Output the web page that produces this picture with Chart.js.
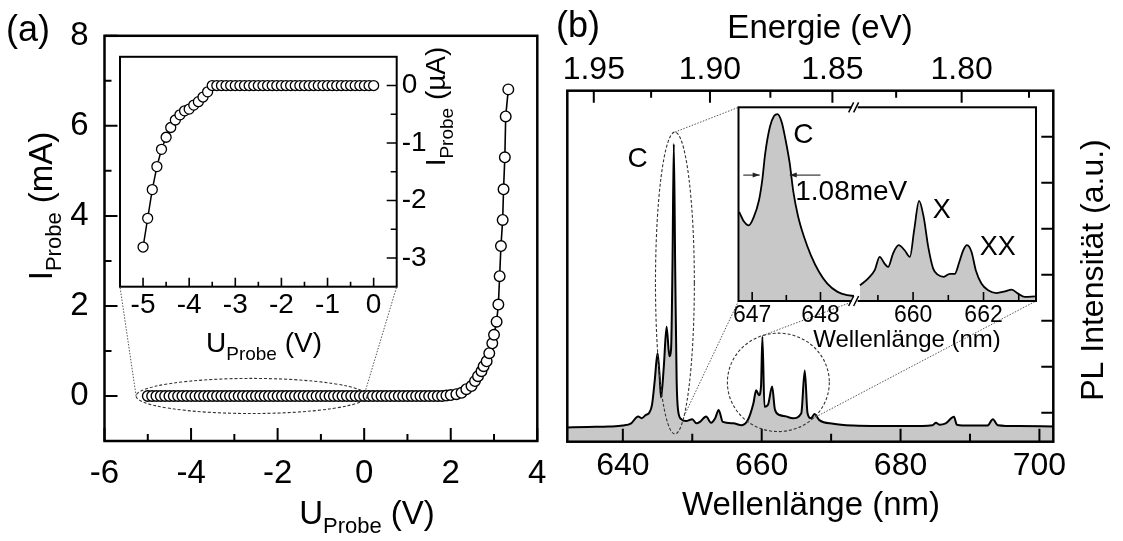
<!DOCTYPE html>
<html>
<head>
<meta charset="utf-8">
<title>Kennlinie und PL-Spektrum</title>
<script src="https://cdn.jsdelivr.net/npm/chart.js@4.4.1/dist/chart.umd.min.js"></script>
<style>
  html, body { margin: 0; padding: 0; background: #fff; }
  #wrap { position: relative; width: 1123px; height: 541px; overflow: hidden; }
  canvas { position: absolute; }
</style>
</head>
<body>
<div id="wrap">
  <canvas id="ivMain" width="560" height="541" style="left:0;top:0"></canvas>
  <canvas id="pl" width="578" height="541" style="left:545px;top:0"></canvas>
  <canvas id="ivInset" width="380" height="345" style="left:100px;top:35px"></canvas>
  <canvas id="plInset" width="320" height="260" style="left:730px;top:100px"></canvas>
</div>
<script>
// ---- Schrift / Defaults ----
const FONT = "'Liberation Sans', Arial, Helvetica, sans-serif";
Chart.defaults.font.family = FONT;
Chart.defaults.color = '#000';
Chart.defaults.animation = false;

// ---- (a) Kennlinie: U in V, I in mA ----
const uMain = [
  -5.0, -4.9, -4.8, -4.7, -4.6, -4.5, -4.4, -4.3, -4.2, -4.1,
  -4.0, -3.9, -3.8, -3.7, -3.6, -3.5, -3.4, -3.3, -3.2, -3.1,
  -3.0, -2.9, -2.8, -2.7, -2.6, -2.5, -2.4, -2.3, -2.2, -2.1,
  -2.0, -1.9, -1.8, -1.7, -1.6, -1.5, -1.4, -1.3, -1.2, -1.1,
  -1.0, -0.9, -0.8, -0.7, -0.6, -0.5, -0.4, -0.3, -0.2, -0.1,
  0.0, 0.1, 0.2, 0.3, 0.4, 0.5, 0.6, 0.7, 0.8, 0.9,
  1.0, 1.1, 1.2, 1.3, 1.4, 1.5, 1.6, 1.7, 1.8, 1.9,
  2.0, 2.13, 2.25, 2.36, 2.48, 2.56, 2.63, 2.71, 2.76, 2.83,
  2.89, 2.96, 3.0, 3.06, 3.1, 3.13, 3.16, 3.2, 3.22, 3.25,
  3.27, 3.33
];
const iMain = [
  0, 0, 0, 0, 0, 0, 0, 0, 0, 0,
  0, 0, 0, 0, 0, 0, 0, 0, 0, 0,
  0, 0, 0, 0, 0, 0, 0, 0, 0, 0,
  0, 0, 0, 0, 0, 0, 0, 0, 0, 0,
  0, 0, 0, 0, 0, 0, 0, 0, 0, 0,
  0, 0, 0, 0, 0, 0, 0, 0, 0, 0,
  0, 0, 0, 0, 0, 0, 0, 0, 0, 0.01,
  0.02, 0.04, 0.07, 0.15, 0.22, 0.33, 0.44, 0.55, 0.66, 0.77,
  0.95, 1.17, 1.36, 1.65, 2.03, 2.66, 3.33, 3.91, 4.59, 5.30,
  6.21, 6.81
];
// Inset (a): I in µA
const uInset = [
  -5.0, -4.9, -4.8, -4.7, -4.6, -4.5, -4.4, -4.3, -4.2, -4.1,
  -4.0, -3.9, -3.8, -3.7, -3.6, -3.5, -3.4, -3.3, -3.2, -3.1,
  -3.0, -2.9, -2.8, -2.7, -2.6, -2.5, -2.4, -2.3, -2.2, -2.1,
  -2.0, -1.9, -1.8, -1.7, -1.6, -1.5, -1.4, -1.3, -1.2, -1.1,
  -1.0, -0.9, -0.8, -0.7, -0.6, -0.5, -0.4, -0.3, -0.2, -0.1,
  0.0
];
const iInset = [
  -2.81, -2.31, -1.81, -1.41, -1.11, -0.90, -0.73, -0.60, -0.51, -0.44,
  -0.41, -0.34, -0.28, -0.20, -0.11, 0, 0, 0, 0, 0,
  0, 0, 0, 0, 0, 0, 0, 0, 0, 0,
  0, 0, 0, 0, 0, 0, 0, 0, 0, 0,
  0, 0, 0, 0, 0, 0, 0, 0, 0, 0,
  0
];
const uMajor = [-6, -4, -2, 0, 2, 4];
const uMinor = [-5, -3, -1, 1, 3];
const iMajor = [0, 2, 4, 6, 8];
const iMinor = [1, 3, 5, 7];
const uInMajor = [-5, -4, -3, -2, -1, 0];
const uInMinor = [-4.5, -3.5, -2.5, -1.5, -0.5];
const iInMajor = [0, -1, -2, -3];
const iInMinor = [-0.5, -1.5, -2.5];

// ---- (b) PL-Spektrum: Wellenlänge in nm, Intensität in a.u. ----
const wl = [
  632, 635, 638, 640, 641.2, 642.2, 642.7, 643.3, 643.8, 644.2,
  644.6, 645.0, 645.3, 645.5, 645.9, 646.3, 646.7, 646.95, 647.15, 647.34,
  647.55, 647.75, 647.95, 648.4, 649.1, 650.0, 650.6, 651.1, 652.0, 652.7,
  653.3, 653.8, 654.4, 655.9, 657.1, 658.0, 658.8, 659.2, 659.6, 659.9,
  660.1, 660.4, 660.9, 661.5, 661.9, 662.6, 663.5, 664.5, 665.7, 666.2,
  666.6, 667.1, 667.6, 668.3, 670.3, 673.2, 677, 681, 684.6, 685.1,
  685.6, 686.5, 687.7, 688.1, 690, 692.5, 693.3, 694, 697, 702
];
const pl = [
  -0.32, -0.31, -0.30, -0.28, -0.23, -0.08, -0.12, -0.05, 0.0, 0.17,
  0.71, 1.29, 0.79, 0.33, 1.0, 1.87, 1.23, 1.4, 3.2, 5.84,
  3.0, 0.7, 0.06, -0.14, -0.18, -0.14, -0.23, -0.2, -0.08, -0.22,
  -0.12, 0.06, -0.2, -0.23, -0.27, -0.16, 0.2, 0.49, 0.38, 0.57,
  1.65, 0.13, 0.17, 0.57, 0.07, -0.05, -0.08, -0.12, -0.01, 0.92,
  -0.01, -0.12, -0.03, -0.16, -0.24, -0.28, -0.29, -0.29, -0.27, -0.22,
  -0.26, -0.23, -0.09, -0.26, -0.28, -0.28, -0.14, -0.27, -0.29, -0.30
];
// Inset (b), zwei Abschnitte mit Achsenbruch
const wlInL = [646.81, 646.88, 646.95, 647.02, 647.10, 647.15, 647.19, 647.26, 647.32, 647.37,
               647.43, 647.49, 647.55, 647.60, 647.67, 647.76, 647.86, 647.98, 648.10, 648.25,
               648.39, 648.49];
const plInL = [0.46, 0.41, 0.39, 0.43, 0.52, 0.63, 0.76, 0.90, 0.955, 0.965,
               0.926, 0.83, 0.71, 0.57, 0.44, 0.33, 0.236, 0.15, 0.09, 0.047,
               0.03, 0.026];
const wlInR = [658.49, 658.72, 658.91, 659.05, 659.19, 659.29, 659.43, 659.59, 659.76, 659.91,
               660.03, 660.17, 660.30, 660.43, 660.57, 660.71, 660.87, 661.04, 661.18, 661.31,
               661.42, 661.53, 661.66, 661.78, 661.94, 662.13, 662.37, 662.61, 662.80, 662.98,
               663.17, 663.46];
const plInR = [0.081, 0.116, 0.159, 0.228, 0.193, 0.176, 0.245, 0.288, 0.262, 0.228,
               0.366, 0.517, 0.434, 0.279, 0.167, 0.135, 0.125, 0.14, 0.14, 0.2,
               0.26, 0.288, 0.253, 0.159, 0.09, 0.055, 0.041, 0.05, 0.059, 0.038,
               0.021, 0.024];
const wlMajor = [640, 660, 680, 700];
const wlMinor = [650, 670, 690];
const eMajor = [1.95, 1.90, 1.85, 1.80];
const eMinor = [1.925, 1.875, 1.825, 1.775];
const plTicks = [0, 1, 2, 3, 4, 5, 6];
const inMajor = [647, 648, 660, 662];
const inMinor = [647.5, 659, 661, 663];

// ---- Hilfen ----
const HC = 1239.84;                       // eV*nm
const pts = (xs, ys) => xs.map((x, i) => ({ x, y: ys[i] }));

// Achsenbruch im Inset: linker Abschnitt gestreckt
const IN_START = 646.8, BRK_L = 648.5, BRK_R = 658.34, IN_END = 663.49, STRETCH_L = 1.94;
function toU(nm) {
  return nm <= BRK_L ? (nm - IN_START) * STRETCH_L
                     : (BRK_L - IN_START) * STRETCH_L + (nm - BRK_R);
}

function frame(chart, lw) {
  const ctx = chart.ctx, a = chart.chartArea;
  ctx.save();
  ctx.lineWidth = lw; ctx.strokeStyle = '#000';
  ctx.strokeRect(a.left, a.top, a.right - a.left, a.bottom - a.top);
  ctx.restore();
}

function ticksIn(chart, id, vals, side, len, lw) {
  const ctx = chart.ctx, a = chart.chartArea, s = chart.scales[id];
  ctx.save();
  ctx.lineWidth = lw; ctx.strokeStyle = '#000';
  ctx.beginPath();
  vals.forEach(v => {
    const p = s.getPixelForValue(v);
    if (side === 'bottom') { ctx.moveTo(p, a.bottom); ctx.lineTo(p, a.bottom - len); }
    if (side === 'top')    { ctx.moveTo(p, a.top);    ctx.lineTo(p, a.top + len); }
    if (side === 'left')   { ctx.moveTo(a.left, p);   ctx.lineTo(a.left + len, p); }
    if (side === 'right')  { ctx.moveTo(a.right, p);  ctx.lineTo(a.right - len, p); }
  });
  ctx.stroke();
  ctx.restore();
}

// Text mit Index, zentriert um (x, y); parts = [text, size, dy]
function richText(ctx, x, y, parts, rot) {
  ctx.save();
  ctx.translate(x, y);
  if (rot) ctx.rotate(rot);
  ctx.fillStyle = '#000';
  ctx.textAlign = 'left';
  ctx.textBaseline = 'alphabetic';
  let w = 0;
  parts.forEach(p => { ctx.font = p[1] + 'px ' + FONT; w += ctx.measureText(p[0]).width; });
  let cx = -w / 2;
  parts.forEach(p => {
    ctx.font = p[1] + 'px ' + FONT;
    ctx.fillText(p[0], cx, p[2] || 0);
    cx += ctx.measureText(p[0]).width;
  });
  ctx.restore();
}

function plainText(ctx, txt, x, y, size) {
  ctx.save();
  ctx.font = size + 'px ' + FONT;
  ctx.fillStyle = '#000';
  ctx.textAlign = 'left';
  ctx.textBaseline = 'alphabetic';
  ctx.fillText(txt, x, y);
  ctx.restore();
}

// gestrichelte Ellipse in Datenkoordinaten, liefert Punkt auf dem Rand
function dashEllipse(chart, c) {
  const ctx = chart.ctx, sx = chart.scales.x, sy = chart.scales.y;
  const cx = sx.getPixelForValue(c.x), cy = sy.getPixelForValue(c.y);
  const rx = Math.abs(sx.getPixelForValue(c.x + c.rx) - cx);
  const ry = Math.abs(sy.getPixelForValue(c.y + c.ry) - cy);
  ctx.save();
  ctx.strokeStyle = '#333'; ctx.lineWidth = 1.1; ctx.setLineDash([3, 2]);
  ctx.beginPath(); ctx.ellipse(cx, cy, rx, ry, 0, 0, Math.PI * 2); ctx.stroke();
  ctx.restore();
  return t => ({ x: cx + rx * Math.cos(t), y: cy + ry * Math.sin(t) });
}

function dotLine(ctx, p, q) {
  ctx.save();
  ctx.strokeStyle = '#555'; ctx.lineWidth = 1; ctx.setLineDash([1.5, 1.5]);
  ctx.beginPath(); ctx.moveTo(p.x, p.y); ctx.lineTo(q.x, q.y); ctx.stroke();
  ctx.restore();
}

// Ecke eines Insets in Koordinaten eines anderen Canvas
function cornerIn(inset, host, px, py) {
  return {
    x: px + inset.canvas.offsetLeft - host.canvas.offsetLeft,
    y: py + inset.canvas.offsetTop - host.canvas.offsetTop
  };
}

function arrow(ctx, x1, y, x2) {
  const d = Math.sign(x2 - x1);
  ctx.save();
  ctx.strokeStyle = '#222'; ctx.fillStyle = '#222'; ctx.lineWidth = 1.1;
  ctx.beginPath(); ctx.moveTo(x1, y); ctx.lineTo(x2, y); ctx.stroke();
  ctx.beginPath(); ctx.moveTo(x2, y); ctx.lineTo(x2 - d * 7, y - 2.5); ctx.lineTo(x2 - d * 7, y + 2.5);
  ctx.closePath(); ctx.fill();
  ctx.restore();
}

const hiddenGrid = { display: false, drawTicks: false };
const noBorder = { display: false };

// ---- Inset (a) ----
const ivInset = new Chart(document.getElementById('ivInset'), {
  type: 'scatter',
  data: { datasets: [{
    data: pts(uInset, iInset), showLine: true,
    borderColor: '#000', borderWidth: 1.5,
    pointRadius: 5, pointBorderWidth: 1.3,
    pointBackgroundColor: '#fff', pointBorderColor: '#000'
  }] },
  options: {
    responsive: false, events: [],
    layout: { padding: { left: 20, top: 10.7, right: 0, bottom: 0 } },
    plugins: { legend: { display: false }, tooltip: { enabled: false } },
    scales: {
      x: {
        type: 'linear', min: -5.5, max: 0.5, grid: hiddenGrid, border: noBorder,
        afterBuildTicks: s => { s.ticks = uInMajor.map(v => ({ value: v })); },
        afterFit: s => { s.height = 93.3; },
        ticks: { font: { size: 28 }, padding: 2, autoSkip: false, maxRotation: 0 }
      },
      y: {
        type: 'linear', position: 'right', min: -3.5, max: 0.5, grid: hiddenGrid, border: noBorder,
        afterBuildTicks: s => { s.ticks = iInMajor.map(v => ({ value: v })); },
        afterFit: s => { s.width = 83.3; },
        ticks: { font: { size: 28 }, padding: 5, autoSkip: false }
      }
    }
  },
  plugins: [{
    id: 'insetA',
    beforeDraw(chart) {
      const a = chart.chartArea, ctx = chart.ctx;
      ctx.save(); ctx.fillStyle = '#fff';
      ctx.fillRect(a.left, a.top, a.right - a.left, a.bottom - a.top);
      ctx.restore();
    },
    afterDraw(chart) {
      const ctx = chart.ctx;
      frame(chart, 2);
      ticksIn(chart, 'x', uInMajor, 'bottom', 9, 1.6);
      ticksIn(chart, 'x', uInMinor, 'bottom', 5, 1.6);
      ticksIn(chart, 'y', iInMajor, 'right', 10, 1.6);
      ticksIn(chart, 'y', iInMinor, 'right', 6, 1.6);
      richText(ctx, 164, 317, [['U', 28], ['Probe', 19, 8], [' (V)', 28]]);
      richText(ctx, 345, 71.5, [['I', 28], ['Probe', 19, 8], [' (\u00b5A)', 28]], -Math.PI / 2);
    }
  }]
});

// ---- Hauptgraph (a) ----
new Chart(document.getElementById('ivMain'), {
  type: 'scatter',
  data: { datasets: [{
    data: pts(uMain, iMain), showLine: true,
    borderColor: '#000', borderWidth: 1.6,
    pointRadius: 5.3, pointBorderWidth: 1.4,
    pointBackgroundColor: '#fff', pointBorderColor: '#000'
  }] },
  options: {
    responsive: false, events: [],
    layout: { padding: { left: 0, top: 31, right: 22.7, bottom: 0 } },
    plugins: { legend: { display: false }, tooltip: { enabled: false } },
    scales: {
      x: {
        type: 'linear', min: -6, max: 4, grid: hiddenGrid, border: noBorder,
        afterBuildTicks: s => { s.ticks = uMajor.map(v => ({ value: v })); },
        afterFit: s => { s.height = 100; },
        ticks: { font: { size: 33 }, padding: 13, autoSkip: false, maxRotation: 0 }
      },
      y: {
        type: 'linear', min: -1, max: 8, grid: hiddenGrid, border: noBorder,
        afterBuildTicks: s => { s.ticks = iMajor.map(v => ({ value: v })); },
        afterFit: s => { s.width = 104.5; },
        ticks: { font: { size: 33 }, padding: 16, autoSkip: false }
      }
    }
  },
  plugins: [{
    id: 'mainA',
    afterDraw(chart) {
      const ctx = chart.ctx;
      frame(chart, 2.5);
      ticksIn(chart, 'x', uMajor, 'bottom', 13, 2);
      ticksIn(chart, 'x', uMinor, 'bottom', 7, 2);
      ticksIn(chart, 'y', iMajor, 'left', 13, 2);
      ticksIn(chart, 'y', iMinor, 'left', 7, 2);

      // Zoom-Bereich und Verbindungslinien zum Inset
      const onEll = dashEllipse(chart, { x: -2.6, y: 0, rx: 2.67, ry: 0.39 });
      const ia = ivInset.chartArea;
      dotLine(ctx, onEll(Math.PI), cornerIn(ivInset, chart, ia.left, ia.bottom));
      dotLine(ctx, onEll(-0.2), cornerIn(ivInset, chart, ia.right, ia.bottom));

      richText(ctx, 367, 524, [['U', 33], ['Probe', 22, 9], [' (V)', 33]]);
      richText(ctx, 52, 206, [['I', 33], ['Probe', 22, 9], [' (mA)', 33]], -Math.PI / 2);
      plainText(ctx, '(a)', 6, 41, 36);
    }
  }]
});

// ---- Inset (b) ----
const plInset = new Chart(document.getElementById('plInset'), {
  type: 'scatter',
  data: { datasets: [
    { data: wlInL.map((w, i) => ({ x: toU(w), y: plInL[i] })) },
    { data: wlInR.map((w, i) => ({ x: toU(w), y: plInR[i] })) }
  ].map(d => Object.assign(d, {
    showLine: true, borderColor: '#000', borderWidth: 1.8, pointRadius: 0,
    cubicInterpolationMode: 'monotone', fill: 'start', backgroundColor: '#c8c8c8'
  })) },
  options: {
    responsive: false, events: [],
    layout: { padding: { left: 8.5, top: 7.3, right: 14, bottom: 0 } },
    plugins: { legend: { display: false }, tooltip: { enabled: false } },
    scales: {
      x: {
        type: 'linear', min: 0, max: toU(IN_END), grid: hiddenGrid, border: noBorder,
        afterBuildTicks: s => { s.ticks = inMajor.map(v => ({ value: toU(v) })); },
        afterFit: s => { s.height = 59; },
        ticks: { font: { size: 23 }, padding: 1, autoSkip: false, maxRotation: 0,
                 callback: (v, i) => String(inMajor[i]) }
      },
      y: { type: 'linear', display: false, min: 0, max: 1 }
    }
  },
  plugins: [{
    id: 'insetB',
    beforeDraw(chart) {
      const a = chart.chartArea, ctx = chart.ctx;
      ctx.save(); ctx.fillStyle = '#fff';
      ctx.fillRect(a.left, a.top, a.right - a.left, a.bottom - a.top);
      ctx.restore();
    },
    afterDraw(chart) {
      const ctx = chart.ctx, a = chart.chartArea, sx = chart.scales.x, sy = chart.scales.y;
      frame(chart, 2);
      ticksIn(chart, 'x', inMajor.map(toU), 'bottom', 9, 1.6);
      ticksIn(chart, 'x', inMinor.map(toU), 'bottom', 6, 1.6);

      // Achsenbruch //
      const bx = sx.getPixelForValue(toU(BRK_L));
      [a.top, a.bottom].forEach(y => {
        ctx.save();
        ctx.fillStyle = '#fff'; ctx.fillRect(bx - 3, y - 3, 6, 6);
        ctx.strokeStyle = '#000'; ctx.lineWidth = 1.5;
        ctx.beginPath();
        ctx.moveTo(bx - 6, y + 5); ctx.lineTo(bx - 1, y - 5);
        ctx.moveTo(bx - 1, y + 5); ctx.lineTo(bx + 4, y - 5);
        ctx.stroke();
        ctx.restore();
      });

      // Halbwertsbreite
      const yA = sy.getPixelForValue(0.65);
      arrow(ctx, sx.getPixelForValue(toU(646.87)), yA, sx.getPixelForValue(toU(647.11)));
      arrow(ctx, sx.getPixelForValue(toU(648.0)), yA, sx.getPixelForValue(toU(647.55)));

      plainText(ctx, 'C', sx.getPixelForValue(toU(647.6)), sy.getPixelForValue(0.816), 28);
      plainText(ctx, '1.08meV', sx.getPixelForValue(toU(647.63)), sy.getPixelForValue(0.52), 28);
      plainText(ctx, 'X', sx.getPixelForValue(toU(660.56)), sy.getPixelForValue(0.43), 27);
      plainText(ctx, 'XX', sx.getPixelForValue(toU(661.89)), sy.getPixelForValue(0.24), 27);
      richText(ctx, 177, 247, [['Wellenlänge (nm)', 24]]);
    }
  }]
});

// ---- Hauptgraph (b) ----
new Chart(document.getElementById('pl'), {
  type: 'scatter',
  data: { datasets: [{
    data: pts(wl, pl), showLine: true,
    borderColor: '#000', borderWidth: 2, pointRadius: 0,
    cubicInterpolationMode: 'monotone', fill: 'start', backgroundColor: '#c8c8c8'
  }] },
  options: {
    responsive: false, events: [],
    layout: { padding: { left: 22.3, top: 0, right: 69.7, bottom: 0 } },
    plugins: { legend: { display: false }, tooltip: { enabled: false } },
    scales: {
      x: {
        type: 'linear', position: 'bottom', min: 632, max: 702, grid: hiddenGrid, border: noBorder,
        afterBuildTicks: s => { s.ticks = wlMajor.map(v => ({ value: v })); },
        afterFit: s => { s.height = 99.3; },
        ticks: { font: { size: 32 }, padding: 5, autoSkip: false, maxRotation: 0 }
      },
      xTop: {
        type: 'linear', position: 'top', min: 632, max: 702, grid: hiddenGrid, border: noBorder,
        afterBuildTicks: s => { s.ticks = eMajor.map(e => ({ value: HC / e })); },
        afterFit: s => { s.height = 90.7; },
        ticks: { font: { size: 32 }, padding: 1.5, autoSkip: false, maxRotation: 0,
                 callback: (v, i) => eMajor[i].toFixed(2) }
      },
      y: { type: 'linear', display: false, min: -0.63, max: 7 }
    }
  },
  plugins: [{
    id: 'mainB',
    afterDraw(chart) {
      const ctx = chart.ctx, sx = chart.scales.x, sy = chart.scales.y;
      frame(chart, 2.5);
      ticksIn(chart, 'x', wlMajor, 'bottom', 13, 2);
      ticksIn(chart, 'x', wlMinor, 'bottom', 8, 2);
      ticksIn(chart, 'xTop', eMajor.map(e => HC / e), 'top', 12, 2);
      ticksIn(chart, 'xTop', eMinor.map(e => HC / e), 'top', 7, 2);
      ticksIn(chart, 'y', plTicks, 'right', 12, 2);

      // Zoom-Markierungen und Verbindungslinien zum Inset
      const ia = plInset.chartArea;
      const brkX = plInset.scales.x.getPixelForValue(toU(BRK_L));
      const onC = dashEllipse(chart, { x: 647.5, y: 2.82, rx: 2.8, ry: 3.28 });
      const onX = dashEllipse(chart, { x: 662.4, y: 0.66, rx: 7.34, ry: 1.07 });
      dotLine(ctx, onC(-Math.PI / 2), cornerIn(plInset, chart, ia.left, ia.top));
      dotLine(ctx, onC(1.08), cornerIn(plInset, chart, ia.left, ia.bottom));
      dotLine(ctx, onX(-1.89), cornerIn(plInset, chart, brkX, ia.bottom));
      dotLine(ctx, onX(0.82), cornerIn(plInset, chart, ia.right, ia.bottom));

      plainText(ctx, 'C', sx.getPixelForValue(640.68), sy.getPixelForValue(5.34), 28);
      richText(ctx, 275, 38, [['Energie (eV)', 33]]);
      richText(ctx, 266, 515, [['Wellenlänge (nm)', 33]]);
      richText(ctx, 558, 270, [['PL Intensität (a.u.)', 32]], -Math.PI / 2);
      plainText(ctx, '(b)', 11, 37, 36);
    }
  }]
});
</script>
</body>
</html>
